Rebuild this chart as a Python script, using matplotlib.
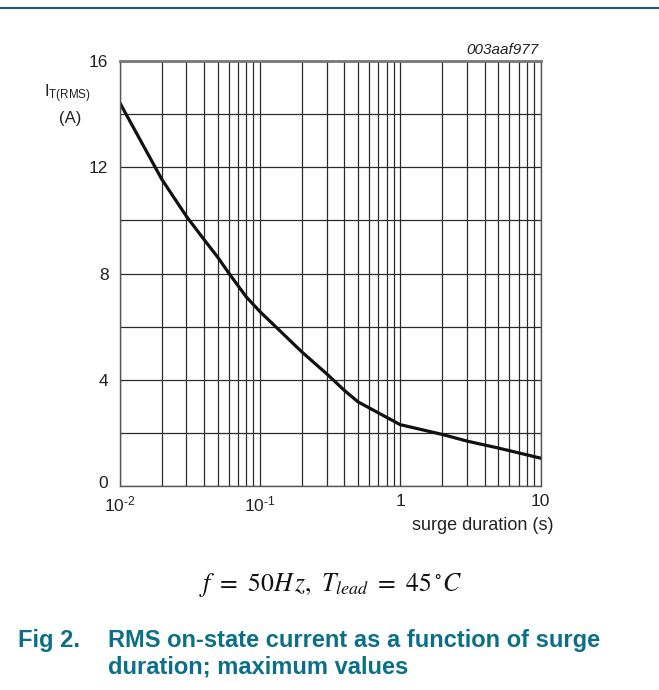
import numpy as np
import matplotlib.pyplot as plt
import matplotlib.transforms as mtransforms
from matplotlib.lines import Line2D

plt.rcParams['font.family'] = ['Liberation Sans', 'DejaVu Sans']
plt.rcParams['mathtext.fontset'] = 'stix'

# courbe
duration = [0.01, 0.02, 0.03, 0.04, 0.05, 0.06, 0.08, 0.1, 0.2, 0.3, 0.4, 0.5,
            1, 2, 3, 5, 10]
i_rms = [14.45, 11.55, 10.15, 9.28, 8.62, 8.02, 7.12, 6.57, 5.04, 4.22, 3.6, 3.17,
         2.31, 1.94, 1.69, 1.43, 1.05]

y_ticks = [0, 4, 8, 12, 16]
x_ticks = [0.01, 0.1, 1, 10]
x_labels = [r'$\mathregular{10^{\text{-}2}}$', r'$\mathregular{10^{\text{-}1}}$', '1', '10']

W, H = 659, 690
teal = '#0b6f87'

fig = plt.figure(figsize=(W / 100, H / 100), dpi=100)

def fx(px):
    return px / W

def fy(py):
    return 1 - py / H

ax = fig.add_axes([fx(119.5), fy(486), fx(540.5) - fx(119.5), fy(61) - fy(486)])
ax.plot(duration, i_rms, color='#111111', lw=2.3, solid_joinstyle='round')
ax.set_xscale('log')
ax.set_xlim(0.01, 10)
ax.set_ylim(0, 16)

ax.set_yticks(y_ticks)
ax.set_yticks(np.arange(0, 17, 2), minor=True)
ax.set_xticks(x_ticks)
ax.set_xticklabels(x_labels)
ax.tick_params(which='both', length=0, labelsize=12.5, colors='#222222')
ax.tick_params(axis='x', pad=6)
ax.tick_params(axis='y', pad=8)
ax.grid(True, which='both', color='#2a2a2a', lw=0.9)
for s in ax.spines.values():
    s.set_color('#555555')
    s.set_linewidth(1.0)
ax.spines['top'].set_linewidth(2.0)
ax.spines['top'].set_color('#777777')

# le "0" un peu plus haut, comme sur l'original
lab0 = ax.get_yticklabels()[0]
lab0.set_transform(lab0.get_transform() +
                   mtransforms.ScaledTranslation(0, 3 / 72, fig.dpi_scale_trans))

fig.text(fx(44), fy(97), r'$\mathregular{I_{T(RMS)}}$', fontsize=12, color='#222222',
         va='baseline', ha='left')
fig.text(fx(70), fy(119), '(A)', fontsize=12, color='#222222', va='center', ha='center')
fig.text(fx(539), fy(50), '003aaf977', fontsize=11, style='italic', color='#222222',
         ha='right', va='center')
fig.text(fx(554), fy(525), 'surge duration (s)', fontsize=13, color='#222222',
         ha='right', va='center')

fig.text(fx(330), fy(585), r'$f\ =\ 50H\,z,\ T_{lead}\ =\ 45\,^{\circ}C$', fontsize=18.5,
         color='#111111', ha='center', va='center')

fig.add_artist(Line2D([0, 1], [fy(8), fy(8)], color='#1b5a75', lw=1.5,
                      transform=fig.transFigure))

fig.text(fx(80), fy(641), 'Fig 2.', fontsize=17, weight='bold', color=teal,
         ha='right', va='center')
fig.text(fx(108), fy(641), 'RMS on-state current as a function of surge', fontsize=17,
         weight='bold', color=teal, ha='left', va='center')
fig.text(fx(108), fy(667), 'duration; maximum values', fontsize=17,
         weight='bold', color=teal, ha='left', va='center')

fig.savefig('out.png', dpi=100)
